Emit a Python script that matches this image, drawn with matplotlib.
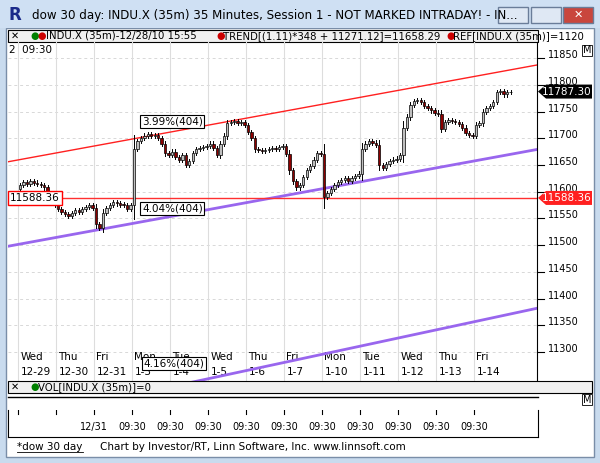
import matplotlib
matplotlib.use("Agg")
import matplotlib.pyplot as plt
from matplotlib.patches import Rectangle, Polygon
import numpy as np

W, H = 600, 463
day_names = ["Wed","Thu","Fri","Mon","Tue","Wed","Thu","Fri","Mon","Tue","Wed","Thu","Fri"]
day_dates = ["12-29","12-30","12-31","1-3","1-4","1-5","1-6","1-7","1-10","1-11","1-12","1-13","1-14"]
closes_by_day = [
 [11612,11618,11615,11620,11617,11614,11612,11608,11595,11580,11575],
 [11568,11562,11558,11555,11560,11565,11563,11568,11572,11575,11570],
 [11540,11532,11560,11570,11575,11580,11578,11576,11575,11568,11575],
 [11680,11695,11700,11705,11708,11704,11706,11700,11690,11672,11668],
 [11675,11665,11660,11668,11650,11658,11672,11680,11682,11684,11686],
 [11690,11682,11668,11690,11705,11728,11730,11732,11728,11730,11725],
 [11712,11700,11680,11678,11676,11678,11680,11682,11680,11684,11686],
 [11670,11640,11620,11608,11612,11628,11640,11648,11660,11672,11670],
 [11590,11598,11605,11612,11618,11622,11625,11620,11626,11630,11634],
 [11680,11690,11695,11692,11688,11650,11645,11652,11658,11660,11662],
 [11668,11720,11740,11762,11770,11772,11768,11760,11756,11752,11748],
 [11746,11718,11730,11734,11732,11730,11726,11720,11710,11706,11705],
 [11725,11728,11750,11756,11760,11768,11786,11788,11782,11786,11787],
]
first_open = 11605
ref_level = 11588.36
last_price = 11787.30
upper_trend = (11656, 11837)   # price at left / right edge
mid_trend = (11498, 11679)
low_trend = (11170, 11382)
price_ticks = [11300,11350,11400,11450,11500,11550,11600,11650,11700,11750,11800,11850]
time_labels = ["12/31"] + ["09:30"]*11

closes = np.array([c for d in closes_by_day for c in d], float)
opens = np.concatenate([[first_open], closes[:-1]])
n = len(closes)
bpd = len(closes_by_day[0])

fig = plt.figure(figsize=(6, 4.63), dpi=100)
fig.patch.set_facecolor("#ffffff")

def rect(l, t, w, h):
    return [l/W, 1-(t+h)/H, w/W, h/H]

def fbox(l, t, w, h, fc, ec="none", lw=1, z=-5):
    fig.patches.append(Rectangle((l/W, 1-(t+h)/H), w/W, h/H, transform=fig.transFigure,
                                 facecolor=fc, edgecolor=ec, lw=lw, zorder=z))

def ftext(x, y, s, **kw):
    fig.text(x/W, 1-y/H, s, **kw)

# window chrome
fbox(0, 0, 600, 463, "#c9dbee", z=-10)
fbox(6, 28, 588, 429, "#ffffff", "#7a8ea8", z=-9)
fbox(0, 0, 600, 28, "#cfe0f3", z=-9)
ftext(32, 15, "dow 30 day: INDU.X (35m) 35 Minutes, Session 1 - NOT MARKED INTRADAY! - IN...",
      fontsize=8.6, va="center")
ftext(8, 15, "R", fontsize=12, fontweight="bold", color="#1a2a8a", va="center")
for x, c in [(498, "#dfe8f4"), (531, "#dfe8f4"), (563, "#c9463d")]:
    fbox(x, 7, 30, 16, c, "#6a7d99")
ftext(578, 15, "✕", color="white", fontsize=8, ha="center", va="center", fontweight="bold")
# legend bar
fbox(8, 30, 530, 12, "#f0f0f0", "#000000", lw=0.8)
ftext(11, 36, "✕", fontsize=7, va="center")
ftext(30, 36, "●", color="green", fontsize=7, va="center")
ftext(37, 36, "●", color="#cc0000", fontsize=7, va="center")
ftext(46, 36, "INDU.X (35m)-12/28/10 15:55", fontsize=7.3, va="center")
ftext(216, 36, "●", color="#cc0000", fontsize=7, va="center")
ftext(223, 36, "TREND[(1.11)*348 + 11271.12]=11658.29", fontsize=7.3, va="center")
ftext(446, 36, "●", color="#cc0000", fontsize=7, va="center")
ftext(453, 36, "REF[INDU.X (35m)]=1120", fontsize=7.3, va="center")

# main axes: pixel area x 8..537, y 42..381
AT, AH = 42, 339
ax = fig.add_axes(rect(8, AT, 529, AH))
ax.set_zorder(2)
ax.patch.set_alpha(0)
px_per_bar = 38/bpd
x0 = -(20-8)/px_per_bar
x1 = x0 + 529/px_per_bar
ax.set_xlim(x0, x1)
ax.set_ylim(11246, 11880)
for y in price_ticks:
    ax.axhline(y, color="#d8d8d8", ls=(0, (3, 3)), lw=0.7, zorder=0)
for d in range(len(day_names)):
    ax.axvline(d*bpd - 0.5, color="#dddddd", lw=0.8, zorder=0)
ax.set_xticks([]); ax.set_yticks([])
for s in ["top", "left", "bottom"]:
    ax.spines[s].set_visible(False)
ax.spines["right"].set_color("black")

xs = np.arange(n)
wick = np.maximum(np.abs(closes-opens)*0.25, 4)
for i in xs:
    o, c = opens[i], closes[i]
    hi, lo = max(o, c)+wick[i], min(o, c)-wick[i]
    ax.plot([i, i], [lo, hi], color="black", lw=0.7, zorder=3)
    col = "#bfbfbf" if c >= o else "#8b0000"
    ax.add_patch(Rectangle((i-0.35, min(o, c)), 0.7, max(abs(c-o), 1.2),
                           facecolor=col, edgecolor="black", lw=0.5, zorder=4))

ax.plot([x0, x1], upper_trend, color="#ff2020", lw=1, zorder=2)
ax.plot([x0, x1], mid_trend, color="#9966ee", lw=2, zorder=2)
ax.plot([x0, x1], low_trend, color="#9966ee", lw=2, zorder=2)
ax.axhline(ref_level, color="#ff3030", lw=1, zorder=2)

bb = dict(boxstyle="square,pad=0.15", fc="white", ec="black", lw=0.8)
tr = ax.get_xaxis_transform()
ax.text(35.3, 11722, "3.99%(404)", fontsize=7.5, bbox=bb, zorder=6, va="bottom")
ax.text(35.3, 11560, "4.04%(404)", fontsize=7.5, bbox=bb, zorder=6, va="bottom")
ax.text(35.8, 0.052, "4.16%(404)", fontsize=7.5, bbox=bb, zorder=6, va="center", transform=tr)
ax.text(x0+0.5, ref_level, "11588.36", fontsize=7.5, va="center", color="black",
        bbox=dict(boxstyle="square,pad=0.2", fc="white", ec="red", lw=1), zorder=6)
ax.text(x0+0.3, 0.975, "2  09:30", fontsize=7.5, va="center", transform=tr)

for d, (nm, dt) in enumerate(zip(day_names, day_dates)):
    ax.text(d*bpd - 0.5 + 0.6, 0.072, nm, fontsize=7.5, va="center", zorder=1, transform=tr)
    ax.text(d*bpd - 0.5 + 0.6, 0.028, dt, fontsize=7.5, va="center", zorder=1, transform=tr)

# right scale
yl = ax.get_ylim()
def ypix(price):
    return AT + AH*(yl[1]-price)/(yl[1]-yl[0])
for y in price_ticks:
    yp = ypix(y)
    fig.add_artist(plt.Line2D([537/W, 544/W], [1-yp/H]*2, color="black", lw=0.8))
    ftext(548, yp-3, str(y), fontsize=7, va="center")
def tag(price, fc, text):
    yp = ypix(price)
    fig.patches.append(Polygon([[538/W, 1-yp/H], [546/W, 1-(yp-7)/H], [592/W, 1-(yp-7)/H],
                                [592/W, 1-(yp+7)/H], [546/W, 1-(yp+7)/H]],
                               transform=fig.transFigure, fc=fc, ec="none", zorder=5))
    ftext(567, yp, text, fontsize=7.5, color="white", ha="center", va="center", zorder=6)
tag(last_price, "black", "11787.30")
tag(ref_level, "#ff2020", "11588.36")
fig.patches.append(Rectangle((582/W, 1-56/H), 10/W, 11/H, transform=fig.transFigure, fc="white", ec="black", lw=0.6))
ftext(587, 50, "M", fontsize=7, ha="center", va="center")

# volume header
fbox(8, 381, 584, 12, "#f0f0f0", "#000000", lw=0.8, z=3)
ftext(11, 387, "✕", fontsize=7, va="center", zorder=4)
ftext(30, 387, "●", color="green", fontsize=7, va="center", zorder=4)
ftext(38, 387, "VOL[INDU.X (35m)]=0", fontsize=7.3, va="center", zorder=4)
fig.add_artist(plt.Line2D([8/W, 538/W], [1-397/H]*2, color="black", lw=1))
fig.patches.append(Rectangle((582/W, 1-405/H), 10/W, 11/H, transform=fig.transFigure, fc="white", ec="black", lw=0.6))
ftext(587, 400, "M", fontsize=7, ha="center", va="center")

# time axis
tax = fig.add_axes(rect(8, 410, 530, 27))
tax.set_zorder(2)
tax.set_xlim(x0, x0 + 530/px_per_bar); tax.set_ylim(0, 1)
tax.set_xticks([]); tax.set_yticks([])
for s in tax.spines.values():
    s.set_color("black")
tax.spines["top"].set_visible(False)
for d in range(len(day_names)):
    xd = d*bpd - 0.5
    tax.plot([xd, xd], [1, 0.85], color="black", lw=0.8)
    if d >= 2:
        tax.text(xd, 0.38, time_labels[d-2], fontsize=7, ha="center", va="center")

ftext(17, 447, "*dow 30 day", fontsize=7.5, va="center")
fig.add_artist(plt.Line2D([17/W, 83/W], [1-452/H]*2, color="black", lw=0.6))
ftext(100, 447, "Chart by Investor/RT, Linn Software, Inc. www.linnsoft.com", fontsize=7.5, va="center")

fig.savefig("out.png", dpi=100)
